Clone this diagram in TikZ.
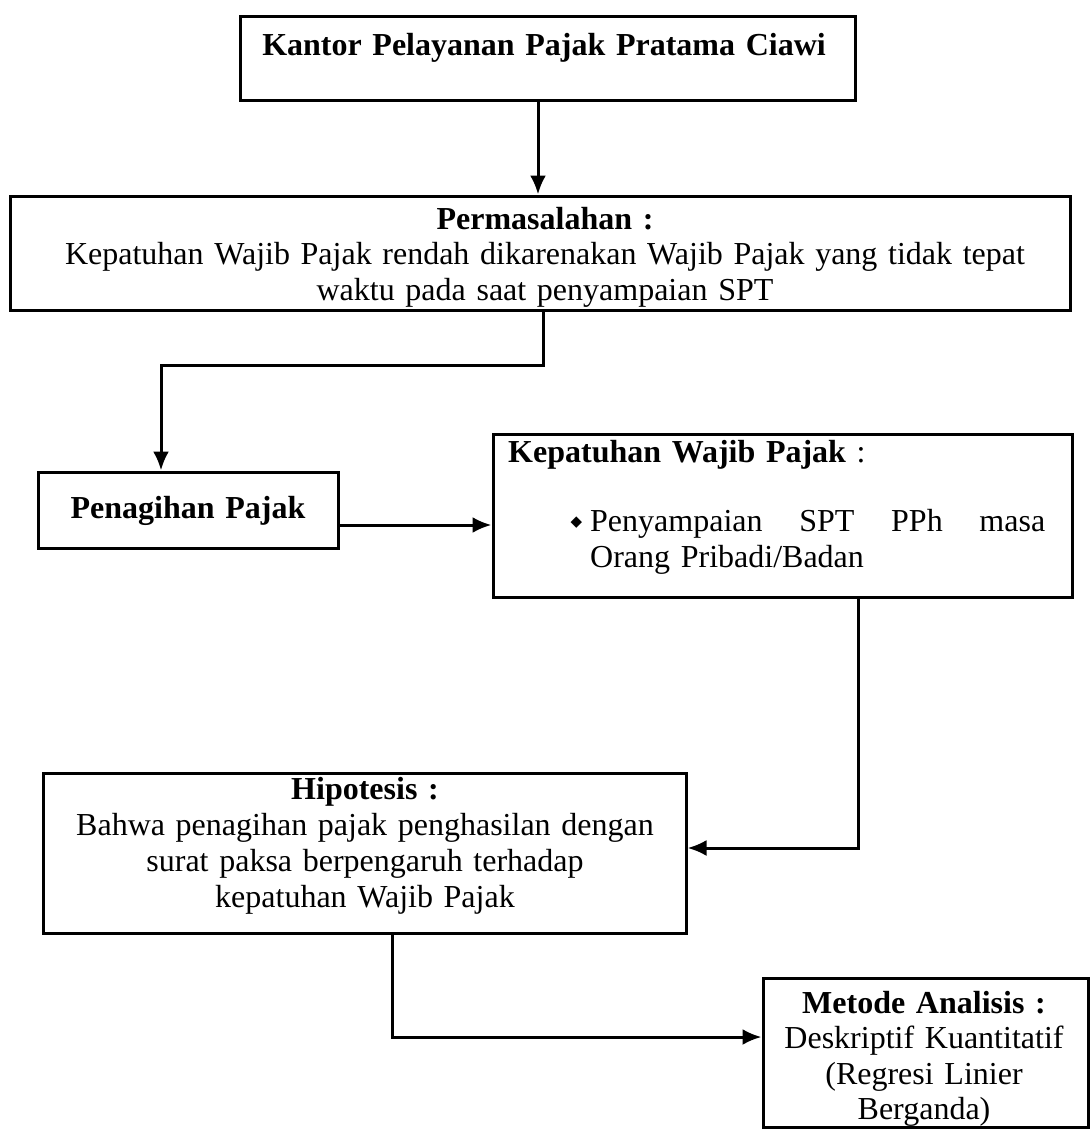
\documentclass[tikz,border=0pt]{standalone}
\usepackage{fontspec}
\setmainfont{Liberation Serif}
\newfontfamily\symfont{DejaVu Sans}
\usetikzlibrary{arrows.meta}
\begin{document}
\begin{tikzpicture}[x=1pt,y=-1pt,
  box/.style={draw, line width=3pt, rectangle, inner sep=0pt},
  txt/.style={font=\fontsize{32}{36}\selectfont, align=center, inner sep=0pt, anchor=base},
  arr/.style={line width=3pt, -{Latex[length=19pt,width=16pt]}}]
\useasboundingbox[fill=white] (0,0) rectangle (1091,1130);

% boxes
\node[box, minimum width=615pt, minimum height=84pt] (kpp) at (547.5,58) {};
\node[box, minimum width=1060pt, minimum height=114pt] (perm) at (540,253) {};
\node[box, minimum width=300pt, minimum height=76pt] (pen) at (188,510) {};
\node[box, minimum width=579pt, minimum height=163pt] (kep) at (782.5,515.5) {};
\node[box, minimum width=643pt, minimum height=160pt] (hip) at (364.5,853) {};
\node[box, minimum width=325pt, minimum height=149pt] (met) at (925.5,1052.5) {};

% texts
\node[txt, text width=600pt] (kppt) at (544,55) {\textbf{Kantor Pelayanan Pajak Pratama Ciawi}};
\node[txt, text width=1040pt, font=\fontsize{32}{35.5}\selectfont] (permt) at (545,229)
  {\textbf{Permasalahan :}\\Kepatuhan Wajib Pajak rendah dikarenakan Wajib Pajak yang tidak tepat\\waktu pada saat penyampaian SPT};
\node[txt, text width=290pt] (pent) at (188,518) {\textbf{Penagihan Pajak}};
\node[txt, text width=560pt, align=left, anchor=base west] (kept) at (508,462) {\textbf{Kepatuhan Wajib Pajak} :};
\node[txt, text width=470pt, align=left, anchor=base west] (kepb) at (590,531)
  {\llap{\raisebox{5pt}{\symfont\fontsize{15}{15}\selectfont ◆}\hspace{8pt}}\hbox to 455pt{Penyampaian\hfill SPT\hfill PPh\hfill masa}\\Orang Pribadi/Badan};
\node[txt, text width=630pt, font=\fontsize{32}{36}\selectfont] (hipt) at (365,799)
  {\textbf{Hipotesis :}\\Bahwa penagihan pajak penghasilan dengan\\surat paksa berpengaruh terhadap\\kepatuhan Wajib Pajak};
\node[txt, text width=320pt, font=\fontsize{32}{35.5}\selectfont] (mett) at (924,1013)
  {\textbf{Metode Analisis :}\\Deskriptif Kuantitatif\\(Regresi Linier\\Berganda)};

% connector bend points
\coordinate (a1) at (538,0);
\coordinate (c1) at (543,365);
\coordinate (c2) at (161,365);
\coordinate (c3) at (0,525);
\coordinate (c4) at (858,848);
\coordinate (c5) at (392,1037);

% connectors
\draw[arr] (kpp.south -| a1) -- (perm.north -| a1);
\draw[arr] (perm.south -| c1) -- (c1) -- (c2) -- (pen.north -| c2);
\draw[arr] (pen.east |- c3) -- (kep.west |- c3);
\draw[arr] (kep.south -| c4) -- (c4) -- (hip.east |- c4);
\draw[arr] (hip.south -| c5) -- (c5) -- (met.west |- c5);
\end{tikzpicture}
\end{document}
